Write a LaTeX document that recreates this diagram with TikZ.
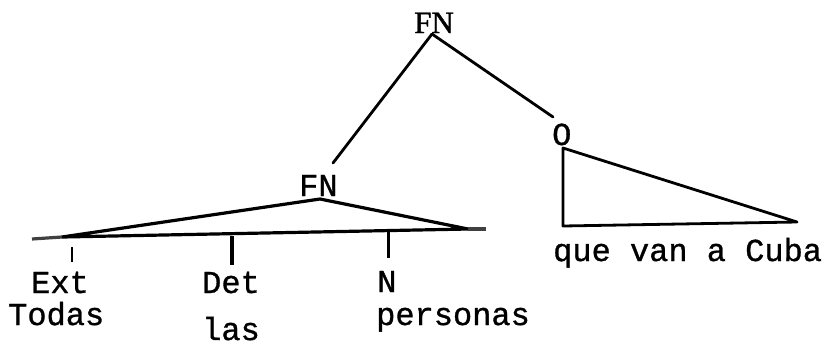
\documentclass[tikz,border=0pt]{standalone}
\usepackage{fontspec}
\setmainfont{Liberation Serif}
\newfontfamily\tw{Liberation Mono}[FakeBold=1]
\newfontfamily\sr{Liberation Serif}[FakeBold=1.2]
\begin{document}
\begin{tikzpicture}[x=1pt,y=-1pt,
  lbl/.style={inner sep=0pt,anchor=base west,text depth=0pt,font=\tw\fontsize{32}{32}\selectfont},
  slbl/.style={inner sep=0pt,anchor=base west,font=\sr\fontsize{31}{31}\selectfont},
  edge/.style={line width=2.8pt,line cap=round,line join=round},
  stub/.style={line width=3.2pt,black!75}]
\useasboundingbox (0,0) rectangle (826,346);
% labels
\node[slbl] (fntop) at (414,33) {FN};
\node[lbl] (fnlow) at (299,196) {FN};
\node[lbl] (o) at (552,145) {O};
\node[lbl] (cuba) at (553,261) {que van a Cuba};
\node[lbl] (ext) at (31,293) {Ext};
\node[lbl] (todas) at (8,325) {Todas};
\node[lbl] (det) at (202,293) {Det};
\node[lbl] (las) at (202,340) {las};
\node[lbl] (n) at (377,292) {N};
\node[lbl] (personas) at (376,325) {personas};
% vertices
\coordinate (a) at (432,34);
\coordinate (b) at (333,163);
\coordinate (c) at (553,117);
\coordinate (t1) at (563,148);
\coordinate (t2) at (563,226);
\coordinate (t3) at (797,222);
\coordinate (l0) at (320,199);
\coordinate (l1) at (62,237);
\coordinate (l2) at (468,229);
\coordinate (s1) at (32,239);
\coordinate (s2) at (486,229);
\coordinate (k1a) at (72,247);
\coordinate (k1b) at (72,262);
\coordinate (k2a) at (232,236);
\coordinate (k2b) at (232,265);
\coordinate (k3a) at (388,232);
\coordinate (k3b) at (388,258);
% top branches
\draw[edge] (a) -- (b);
\draw[edge] (a) -- (c);
% O triangle
\draw[edge] (t1) -- (t2) -- (t3) -- cycle;
% lower FN triangle
\draw[edge,line width=3.2pt] (l0) -- (l1) -- (l2) -- cycle;
\draw[stub] (s1) -- (l1);
\draw[stub] (l2) -- (s2);
% ticks
\draw[line width=2pt] (k1a) -- (k1b);
\draw[line width=3.6pt] (k2a) -- (k2b);
\draw[line width=3pt] (k3a) -- (k3b);
\end{tikzpicture}
\end{document}
